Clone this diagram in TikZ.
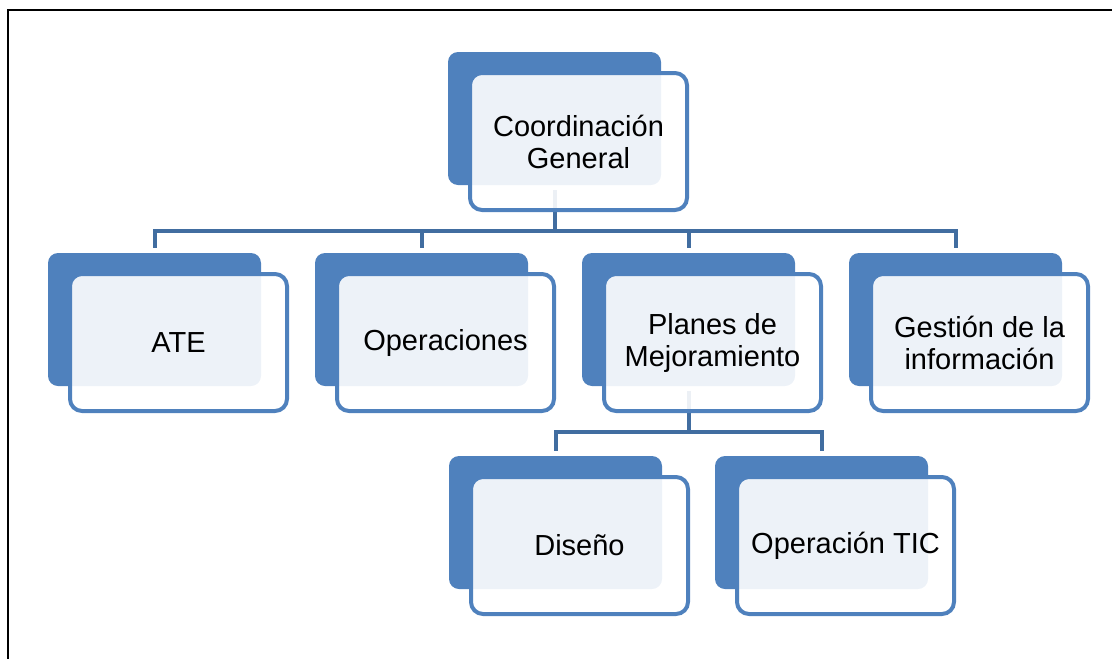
\documentclass[tikz,border=0pt]{standalone}
\usepackage{fontspec}
\setmainfont{Liberation Sans}
\usetikzlibrary{backgrounds}
\definecolor{boxblue}{RGB}{79,129,189}
\definecolor{linkblue}{RGB}{65,109,160}
\tikzset{
  backbox/.style={rectangle, rounded corners=10pt, fill=boxblue,
    minimum width=213pt, minimum height=133pt, inner sep=0pt, outer sep=0pt},
  frontbox/.style={rectangle, rounded corners=12pt, draw=boxblue, line width=4pt,
    fill=white, fill opacity=0.9, text opacity=1,
    minimum width=217pt, minimum height=137pt, inner sep=0pt, outer sep=0pt,
    align=center, font=\fontsize{29}{32}\selectfont},
  link/.style={draw=linkblue, line width=4pt}
}

\begin{document}
\begin{tikzpicture}[x=1pt, y=-1pt]
  \useasboundingbox (0,0) rectangle (1112,659);
  % Frame
  \draw[line width=2pt] (8,659) -- (8,10) -- (1112,10);
  % Back boxes
  \node[backbox] (coordb) at (554.5,118.5) {};
  \node[backbox] (ateb)   at (154.5,319.5) {};
  \node[backbox] (operb)  at (421.5,319.5) {};
  \node[backbox] (planb)  at (688.5,319.5) {};
  \node[backbox] (gestb)  at (955.5,319.5) {};
  \node[backbox] (disb)   at (555.5,522.5) {};
  \node[backbox] (ticb)   at (821.5,522.5) {};
  % Front boxes with labels
  \node[frontbox] (coord) at ([shift={(24,23)}]coordb.center) {Coordinación\\General};
  \node[frontbox] (ate)   at ([shift={(24,23)}]ateb.center)   {ATE};
  \node[frontbox] (oper)  at ([shift={(24,23)}]operb.center)  {Operaciones};
  \node[frontbox] (plan)  at ([shift={(24,23)}]planb.center)  {Planes de\\Mejoramiento};
  \node[frontbox] (gest)  at ([shift={(24,23)}]gestb.center)  {Gestión de la\\información};
  \node[frontbox] (dis)   at ([shift={(24,23)}]disb.center)   {Diseño};
  \node[frontbox] (tic)   at ([shift={(24,23)}]ticb.center)   {Operación TIC};
  % Connectors, behind the boxes
  \begin{scope}[on background layer]
    \foreach \k in {ateb,operb,planb,gestb}
      \draw[link] ([yshift=-5pt]coordb.south) -- (coordb.south |- 0,231)
        -| ([yshift=5pt]\k.north);
    \foreach \k in {disb,ticb}
      \draw[link] ([yshift=-5pt]planb.south) -- (planb.south |- 0,432)
        -| ([yshift=5pt]\k.north);
  \end{scope}
\end{tikzpicture}
\end{document}
